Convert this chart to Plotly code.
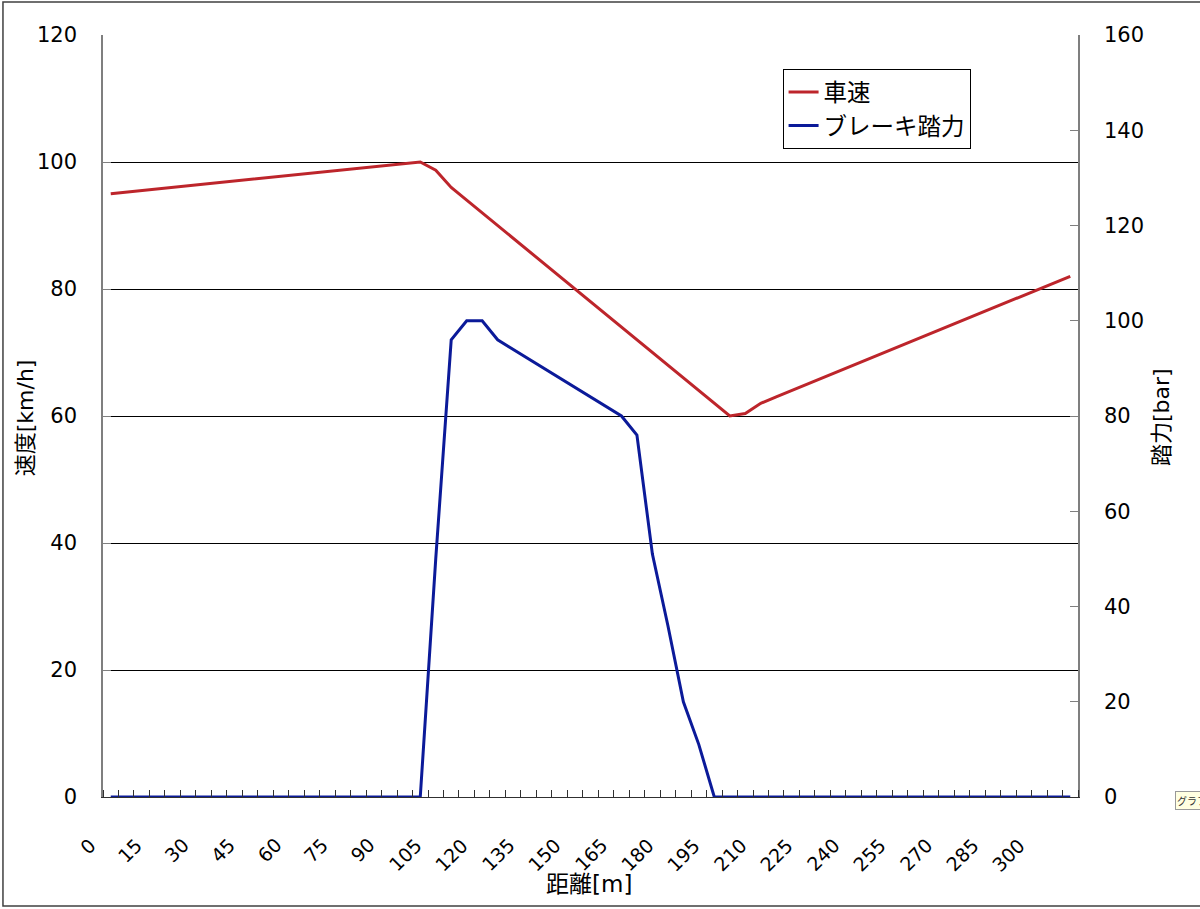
import plotly.graph_objects as go

# distance categories [m] (Excel category axis, one point every 5 m)
distance = [0, 5, 10, 15, 20, 25, 30, 35, 40, 45, 50, 55, 60, 65, 70, 75, 80, 85, 90, 95,
            100, 105, 110, 115, 120, 125, 130, 135, 140, 145, 150, 155, 160, 165, 170, 175,
            180, 185, 190, 195, 200, 205, 210, 215, 220, 225, 230, 235, 240, 245, 250, 255,
            260, 265, 270, 275, 280, 285, 290, 295, 300, 305, 310]

# vehicle speed [km/h]
speed = [95, 95.25, 95.5, 95.75, 96, 96.25, 96.5, 96.75, 97, 97.25, 97.5, 97.75, 98, 98.25,
         98.5, 98.75, 99, 99.25, 99.5, 99.75, 100, 98.7, 96, 94, 92, 90, 88, 86, 84, 82,
         80, 78, 76, 74, 72, 70, 68, 66, 64, 62, 60, 60.4, 62, 63, 64, 65, 66, 67, 68, 69,
         70, 71, 72, 73, 74, 75, 76, 77, 78, 79, 80, 81, 82]

# brake pedal force [bar]
brake = [0, 0, 0, 0, 0, 0, 0, 0, 0, 0, 0, 0, 0, 0, 0, 0, 0, 0, 0, 0, 0, 50, 96, 100, 100,
         96, 94, 92, 90, 88, 86, 84, 82, 80, 76, 51, 36, 20, 11, 0, 0, 0, 0, 0, 0, 0, 0, 0,
         0, 0, 0, 0, 0, 0, 0, 0, 0, 0, 0, 0, 0, 0, 0]

# labelled distances on the x axis
xtick_vals = [0, 15, 30, 45, 60, 75, 90, 105, 120, 135, 150, 165, 180, 195, 210, 225, 240,
              255, 270, 285, 300]
xtick_text = [str(v) for v in xtick_vals]

left_ticks = [0, 20, 40, 60, 80, 100, 120]
right_ticks = [0, 20, 40, 60, 80, 100, 120, 140, 160]
grid_vals = [20, 40, 60, 80, 100]

FONT = "DejaVu Sans, Noto Sans CJK JP"
RED = "#BD252B"
BLUE = "#0B1A99"
AXGRAY = "#7F7F7F"

fig = go.Figure()

fig.add_trace(go.Scatter(
    x=distance, y=speed, name="車速", mode="lines",
    line=dict(color=RED, width=3), yaxis="y"
))
fig.add_trace(go.Scatter(
    x=distance, y=brake, name="ブレーキ踏力", mode="lines",
    line=dict(color=BLUE, width=3), yaxis="y2"
))
# empty trace so the gridline axis gets drawn
fig.add_trace(go.Scatter(x=[], y=[], yaxis="y3", showlegend=False, hoverinfo="skip"))

fig.update_layout(
    template="none",
    width=1200, height=909,
    margin=dict(l=103, r=122, t=35, b=112),
    paper_bgcolor="white", plot_bgcolor="white",
    font=dict(family=FONT, size=21, color="black"),
    showlegend=True,
    legend=dict(
        x=0.697, y=0.955, xanchor="left", yanchor="top",
        bordercolor="black", borderwidth=1, bgcolor="white",
        font=dict(family="Noto Sans CJK JP", size=23.5), traceorder="normal"
    ),
    xaxis=dict(
        range=[-2.5, 312.5], tickmode="array", tickvals=xtick_vals,
        showticklabels=False, ticks="", showgrid=False, zeroline=False,
        showline=True, linecolor="#303030", linewidth=1,
        minor=dict(tickmode="linear", tick0=-2.5, dtick=5, ticks="inside",
                   ticklen=7, tickcolor="#303030", showgrid=False),
    ),
    yaxis=dict(
        range=[0, 120], tickmode="array", tickvals=left_ticks,
        ticks="inside", ticklen=8, tickcolor=AXGRAY,
        showline=True, linecolor=AXGRAY, linewidth=1.5,
        showgrid=False, zeroline=False, ticklabelstandoff=20,
    ),
    yaxis2=dict(
        range=[0, 160], tickmode="array", tickvals=right_ticks,
        overlaying="y", side="right", anchor="x",
        ticks="inside", ticklen=8, tickcolor=AXGRAY,
        showline=True, linecolor=AXGRAY, linewidth=1.5,
        showgrid=False, zeroline=False, ticklabelstandoff=20,
    ),
    yaxis3=dict(
        range=[0, 120], tickmode="array", tickvals=grid_vals,
        overlaying="y", anchor="x", showticklabels=False, ticks="",
        showline=False, zeroline=False,
        showgrid=True, gridcolor="black", gridwidth=1,
    ),
)

# slanted Excel-style category labels, end of text just left of each category
for val, txt in zip(xtick_vals, xtick_text):
    fig.add_annotation(
        x=val, xref="x", y=-0.047, yref="paper",
        xanchor="right", yanchor="top", xshift=-9,
        text=txt, textangle=-45, showarrow=False, borderpad=0,
        font=dict(size=19)
    )

# axis titles placed as in the Excel chart
fig.add_annotation(xref="paper", yref="paper", x=0.4985, y=-0.1142,
                   xanchor="center", yanchor="middle",
                   text="距離[m]", showarrow=False, font=dict(size=23))
fig.add_annotation(xref="paper", yref="paper", x=-0.080, y=0.497, textangle=-90,
                   xanchor="center", yanchor="middle",
                   text="速度[km/h]", showarrow=False, font=dict(size=22))
fig.add_annotation(xref="paper", yref="paper", x=1.0862, y=0.4987, textangle=-90,
                   xanchor="center", yanchor="middle",
                   text="踏力[bar]", showarrow=False, font=dict(size=22))

# Excel chart-area border
fig.add_shape(type="rect", xref="paper", yref="paper",
              x0=-0.1026, x1=1.2, y0=-0.143, y1=1.0433,
              line=dict(color="#404040", width=1.5), layer="below")

# tooltip remnant at the right edge
fig.add_annotation(
    xref="paper", yref="paper", x=1.0995, y=-0.005, xanchor="left", yanchor="middle",
    text="グラフ", showarrow=False, font=dict(family="Noto Sans CJK JP", size=10, color="#333333"),
    bgcolor="#FFFFE1", bordercolor="#999999", borderwidth=1, borderpad=1
)

# page body has an 8px default margin; remove it so the figure sits at the window corner
fig.write_html("out.html", config={"displayModeBar": False},
               post_script="document.body.style.margin='0';")
